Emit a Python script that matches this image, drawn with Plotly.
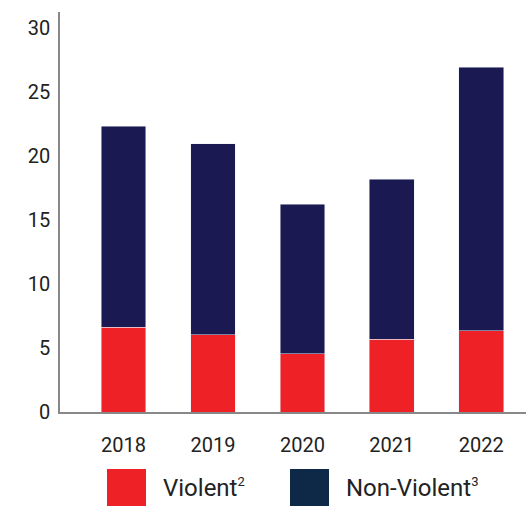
import plotly.graph_objects as go

# Data (counts by year)
years = ["2018", "2019", "2020", "2021", "2022"]
violent = [6.64, 6.02, 4.55, 5.70, 6.33]
non_violent = [15.70, 14.92, 11.70, 12.50, 20.62]

RED = "#EE2226"
NAVY_BAR = "#1B1951"
NAVY_KEY = "#0E2847"
TEXT = "#222222"
FONT = "Roboto"

W, H = 526, 506
ML, MR, MT, MB = 60, 0, 12, 94
plot_w = W - ML - MR
plot_h = H - MT - MB


def px_x(x):
    return (x - ML) / plot_w


def px_y(y):
    return (H - MB - y) / plot_h


fig = go.Figure()
fig.add_trace(go.Bar(x=years, y=violent, name="Violent", marker_color=RED,
                     width=0.5, showlegend=False))
fig.add_trace(go.Bar(x=years, y=non_violent, name="Non-Violent",
                     marker_color=NAVY_BAR, width=0.5, showlegend=False))

SUP = "<sup><span style='font-size:13px'>{}</span></sup>"

# Custom legend: large square keys with labels
keys = [(107, RED, "Violent" + SUP.format(2)),
        (290, NAVY_KEY, "Non-Violent" + SUP.format(3))]
shapes, annotations = [], []
for x0, color, label in keys:
    shapes.append(dict(type="rect", xref="paper", yref="paper",
                       x0=px_x(x0), x1=px_x(x0 + 39),
                       y0=px_y(506), y1=px_y(469),
                       fillcolor=color, line_width=0, layer="above"))
    annotations.append(dict(xref="paper", yref="paper", x=px_x(x0 + 54),
                            y=px_y(488), xanchor="left", yanchor="middle",
                            text=label, showarrow=False,
                            font=dict(family=FONT, size=24, color=TEXT)))

fig.update_layout(
    width=W, height=H,
    margin=dict(l=ML, r=MR, t=MT, b=MB),
    barmode="stack",
    plot_bgcolor="white", paper_bgcolor="white",
    font=dict(family=FONT, size=20, color=TEXT),
    shapes=shapes, annotations=annotations,
    xaxis=dict(range=[-0.71, 4.5], showgrid=False, showline=True,
               linecolor="#888888", linewidth=1.5, ticks="",
               ticklabelstandoff=14, tickfont=dict(size=20, color=TEXT)),
    yaxis=dict(range=[0, 31.25], tickvals=[0, 5, 10, 15, 20, 25, 30],
               showgrid=False, zeroline=False, showline=True,
               linecolor="#888888", linewidth=1.5,
               ticks="outside", ticklen=1, tickcolor="rgba(0,0,0,0)",
               ticklabelstandoff=3, tickfont=dict(size=20, color=TEXT)),
)

fig.write_html("out.html")
